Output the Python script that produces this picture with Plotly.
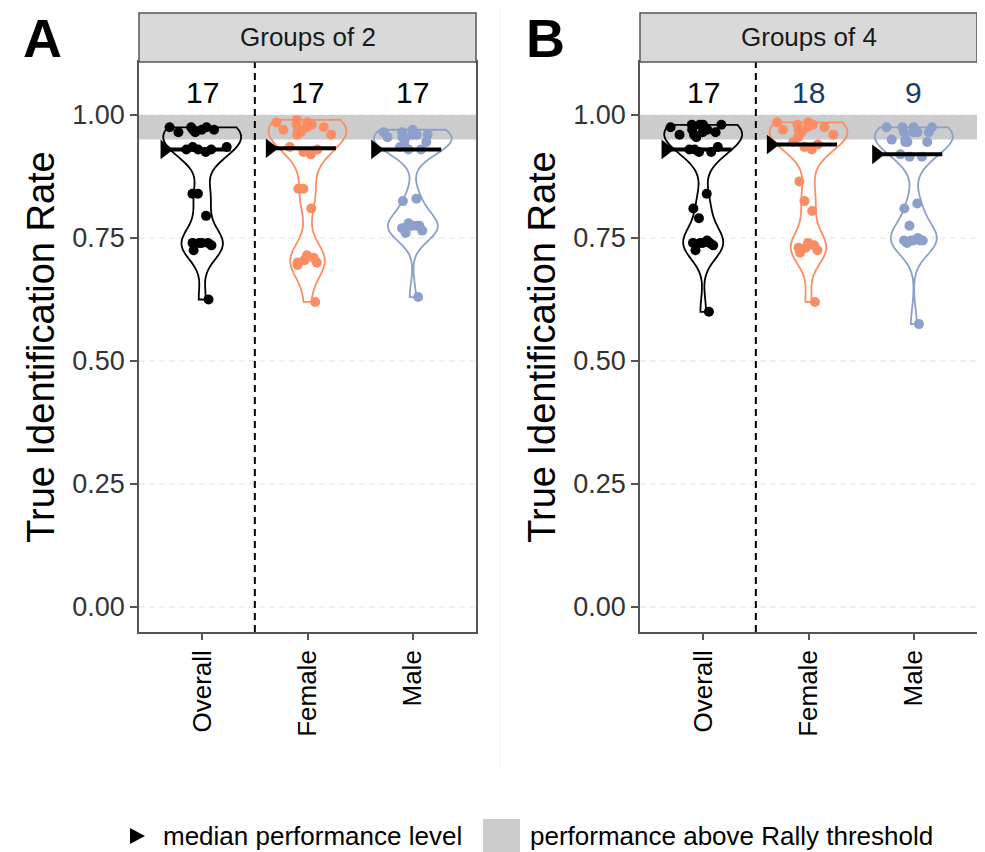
import numpy as np
import plotly.graph_objects as go

# ---------------- data ----------------
categories = ["Overall", "Female", "Male"]
panel_titles = ["Groups of 2", "Groups of 4"]
panel_letters = ["A", "B"]

a_overall = [0.975, 0.975, 0.975, 0.97, 0.97, 0.97, 0.965, 0.965,
             0.935, 0.935, 0.93, 0.93, 0.93, 0.925,
             0.84, 0.84, 0.795,
             0.74, 0.74, 0.74, 0.735, 0.74, 0.725, 0.625]
a_female = [0.99, 0.985, 0.985, 0.98, 0.98, 0.975, 0.975, 0.97, 0.97, 0.965, 0.96, 0.96,
            0.935, 0.93, 0.925, 0.92,
            0.85, 0.85, 0.81,
            0.715, 0.71, 0.705, 0.70, 0.70, 0.695, 0.62]
a_male = [0.97, 0.965, 0.965, 0.96, 0.96, 0.96, 0.955, 0.955, 0.95,
          0.945, 0.94, 0.935, 0.93, 0.93,
          0.83, 0.825,
          0.78, 0.775, 0.775, 0.775, 0.775, 0.77, 0.765, 0.76, 0.63]
b_overall = [0.98, 0.98, 0.98, 0.98, 0.975, 0.97, 0.97, 0.965, 0.965, 0.96, 0.96, 0.955,
             0.935, 0.93, 0.93, 0.925, 0.925,
             0.84, 0.81, 0.79,
             0.745, 0.74, 0.74, 0.74, 0.74, 0.735, 0.725, 0.60]
b_female = [0.985, 0.985, 0.98, 0.98, 0.975, 0.975, 0.97, 0.97, 0.965, 0.96, 0.955,
            0.945, 0.94, 0.935, 0.93,
            0.865, 0.825, 0.805,
            0.74, 0.735, 0.73, 0.73, 0.725, 0.72, 0.62]
b_male = [0.975, 0.975, 0.975, 0.975, 0.965, 0.965, 0.965, 0.965, 0.95, 0.95, 0.945, 0.945, 0.945,
          0.92, 0.915, 0.915,
          0.82, 0.81, 0.775,
          0.75, 0.745, 0.745, 0.745, 0.745, 0.745, 0.74, 0.575]

counts_a = [17, 17, 17]
counts_b = [17, 18, 9]

y_tickvals = [0.0, 0.25, 0.50, 0.75, 1.00]
y_ticktext = ["0.00", "0.25", "0.50", "0.75", "1.00"]
threshold_band = [0.95, 1.00]
legend_labels = ["median performance level", "performance above Rally threshold"]
y_title = "True Identification Rate"

# ---------------- styles ----------------
FONT = "Liberation Sans, Arial, Helvetica, sans-serif"
OFF = 8                      # default page margin around the plot div
W, H = 985 - OFF, 852 - OFF  # figure size so that page pixels map to the reference
colors = ["#000000", "#FC8D62", "#8DA0CB"]
count_colors = [["#000000"] * 3, ["#000000", "#163c6b", "#163c6b"]]
panels = [
    dict(data=[a_overall, a_female, a_male], counts=counts_a, px=(139, 476)),
    dict(data=[b_overall, b_female, b_male], counts=counts_b, px=(640, 977)),
]
plot_top, plot_bot = 62, 632
strip_top = 13
bw_adjust = 0.6


def px_x(v):
    return (v - OFF) / W


def px_y(v):
    return 1 - (v - OFF) / H


def nrd0(v):
    v = np.asarray(v, dtype=float)
    sd = v.std(ddof=1)
    q75, q25 = np.percentile(v, [75, 25])
    lo = min(sd, (q75 - q25) / 1.34)
    if lo <= 0:
        lo = sd
    return 0.9 * lo * len(v) ** -0.2


fig = go.Figure()
shapes, annotations = [], []

for p, panel in enumerate(panels):
    xa = "x" if p == 0 else "x2"
    ya = "y" if p == 0 else "y2"
    # gridlines (dashed, light) then threshold band, both under the marks
    for v in y_tickvals:
        shapes.append(dict(type="line", xref=f"{xa} domain", yref=ya, x0=0, x1=1, y0=v, y1=v,
                           line=dict(color="#e3e3e3", width=1, dash="6px,4px"), layer="below"))
    shapes.append(dict(type="rect", xref=f"{xa} domain", yref=ya, x0=0, x1=1,
                       y0=threshold_band[0], y1=threshold_band[1],
                       fillcolor="#cccccc", line=dict(width=0), layer="below"))
    for i, (vals, col) in enumerate(zip(panel["data"], colors)):
        pos = i + 1
        fig.add_trace(go.Violin(
            y=vals, x0=pos, name=categories[i], orientation="v",
            line=dict(color=col, width=1.8), fillcolor="rgba(0,0,0,0)",
            points="all", pointpos=0, jitter=1.0,
            marker=dict(color=col, size=10, line=dict(width=0)),
            spanmode="hard", bandwidth=nrd0(vals) * bw_adjust,
            scalemode="width", width=0.74,
            box_visible=False, meanline_visible=False,
            showlegend=False, hoverinfo="skip", xaxis=xa, yaxis=ya))
    for i, vals in enumerate(panel["data"]):
        pos = i + 1
        med = float(np.median(vals))
        fig.add_trace(go.Scatter(
            x=[pos - 0.3, pos + 0.27], y=[med, med], mode="lines",
            line=dict(color="black", width=4), showlegend=False,
            hoverinfo="skip", xaxis=xa, yaxis=ya))
        fig.add_trace(go.Scatter(
            x=[pos - 0.355], y=[med], mode="markers",
            marker=dict(symbol="triangle-right", size=17, color="black"),
            showlegend=False, hoverinfo="skip", xaxis=xa, yaxis=ya))
    # counts
    for i, n in enumerate(panel["counts"]):
        annotations.append(dict(
            x=i + 1, y=1.045, xref=xa, yref=ya, text=str(n), showarrow=False,
            xanchor="center", yanchor="middle",
            font=dict(size=30, color=count_colors[p][i], family=FONT)))
    # dashed separator
    shapes.append(dict(type="line", xref=xa, yref=f"{ya} domain", x0=1.5, x1=1.5,
                       y0=0, y1=1, line=dict(color="black", width=2, dash="7px,5px")))
    # strip
    x0p, x1p = panel["px"]
    shapes.append(dict(type="rect", xref="paper", yref="paper",
                       x0=px_x(x0p), x1=px_x(x1p), y0=px_y(plot_top), y1=px_y(strip_top),
                       fillcolor="#d9d9d9", line=dict(color="#555555", width=1.5)))
    annotations.append(dict(x=px_x((x0p + x1p) / 2), y=px_y((plot_top + strip_top) / 2),
                            xref="paper", yref="paper", text=panel_titles[p], showarrow=False,
                            xanchor="center", yanchor="middle",
                            font=dict(size=26, color="#1a1a1a", family=FONT)))
    # panel letter
    annotations.append(dict(x=px_x(42 if p == 0 else 545), y=px_y(38), xref="paper",
                            yref="paper", text=f"<b>{panel_letters[p]}</b>", showarrow=False,
                            xanchor="center", yanchor="middle",
                            font=dict(size=54, color="black", family=FONT)))

    xaxis = dict(domain=[px_x(x0p), px_x(x1p)], range=[0.4, 3.6], tickmode="array",
                 tickvals=[1, 2, 3], ticktext=categories, tickangle=-90,
                 ticks="outside", ticklen=6, tickcolor="#555555", tickwidth=1.5,
                 showline=True, linecolor="#555555", linewidth=1.5, mirror=True,
                 showgrid=False, zeroline=False,
                 tickfont=dict(size=26, color="black", family=FONT), anchor=ya)
    yaxis = dict(domain=[px_y(plot_bot), px_y(plot_top)], range=[-0.0508, 1.1077],
                 tickmode="array", tickvals=y_tickvals, ticktext=y_ticktext,
                 ticks="outside", ticklen=7, tickcolor="#555555", tickwidth=1.5,
                 showline=True, linecolor="#555555", linewidth=1.5, mirror=True,
                 showgrid=False, zeroline=False,
                 tickfont=dict(size=27, color="#333333", family=FONT),
                 title=dict(text=y_title, font=dict(size=38, color="black", family=FONT),
                            standoff=6), anchor=xa)
    if p == 0:
        fig.update_layout(xaxis=xaxis, yaxis=yaxis)
    else:
        fig.update_layout(xaxis2=xaxis, yaxis2=yaxis)

# faint divider between the two panels
shapes.append(dict(type="line", xref="paper", yref="paper", x0=px_x(500), x1=px_x(500),
                   y0=px_y(770), y1=1, line=dict(color="#f2f2f2", width=1)))

# bottom legend (drawn manually)
ly = 836
shapes.append(dict(type="path", xref="paper", yref="paper",
                   path=(f"M {px_x(130)},{px_y(ly - 8)} L {px_x(145)},{px_y(ly)} "
                         f"L {px_x(130)},{px_y(ly + 8)} Z"),
                   fillcolor="black", line=dict(width=0)))
annotations.append(dict(x=px_x(161), y=px_y(ly), xref="paper", yref="paper",
                        xanchor="left", yanchor="middle", text=legend_labels[0],
                        showarrow=False, font=dict(size=26, color="black", family=FONT)))
shapes.append(dict(type="rect", xref="paper", yref="paper", x0=px_x(483), x1=px_x(520),
                   y0=px_y(852), y1=px_y(819), fillcolor="#cccccc", line=dict(width=0)))
annotations.append(dict(x=px_x(528), y=px_y(ly), xref="paper", yref="paper",
                        xanchor="left", yanchor="middle", text=legend_labels[1],
                        showarrow=False, font=dict(size=26, color="black", family=FONT)))

fig.update_layout(
    width=W, height=H, autosize=False,
    margin=dict(l=0, r=0, t=0, b=0),
    paper_bgcolor="white", plot_bgcolor="white",
    violinmode="overlay", showlegend=False,
    shapes=shapes, annotations=annotations,
    font=dict(family=FONT),
)

fig.write_html("out.html")
